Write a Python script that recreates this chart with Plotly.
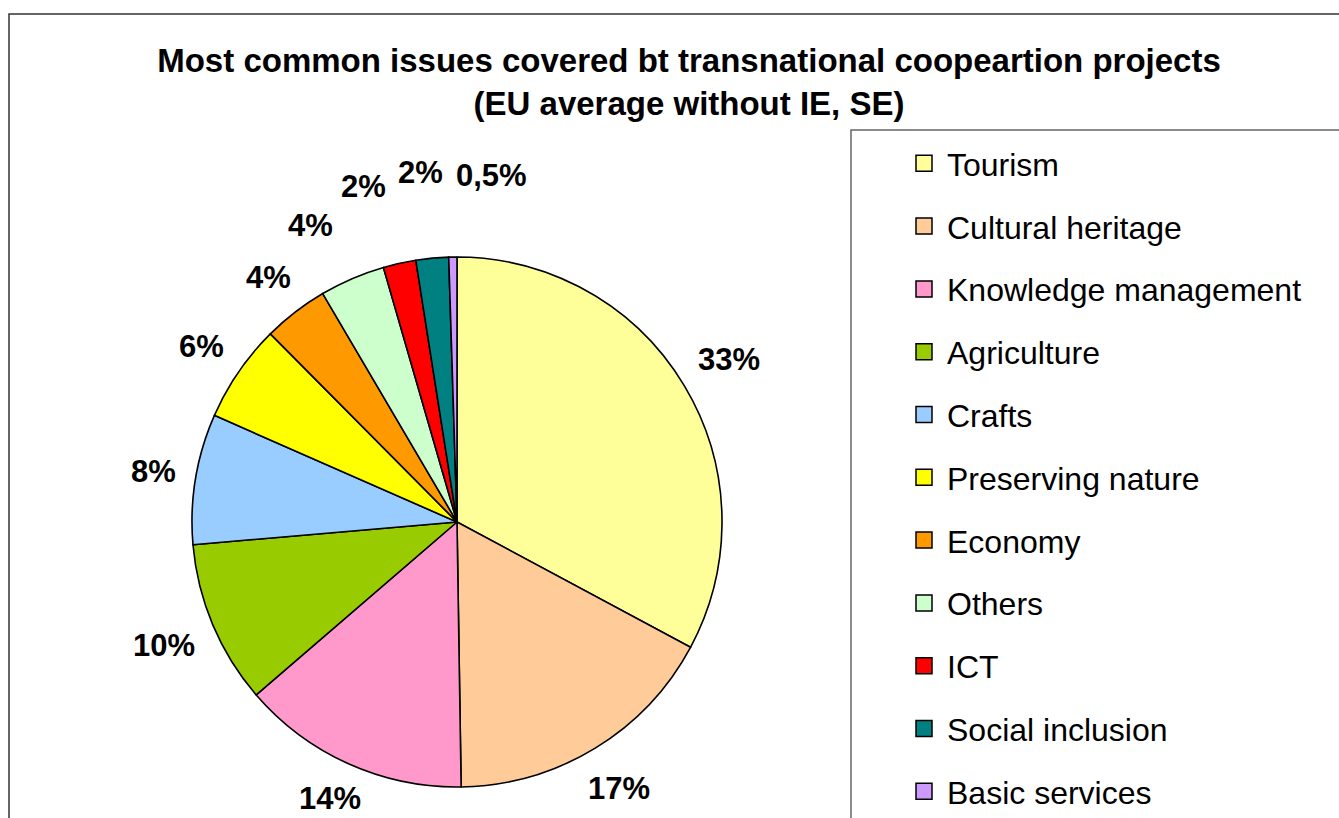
import math
import plotly.graph_objects as go

# ---- data ----
categories = ["Tourism", "Cultural heritage", "Knowledge management", "Agriculture",
              "Crafts", "Preserving nature", "Economy", "Others", "ICT",
              "Social inclusion", "Basic services"]
shares = [33, 17, 14, 10, 8, 6, 4, 4, 2, 2, 0.5]
colors = ["#FFFF99", "#FFCC99", "#FF99CC", "#99CC00", "#99CCFF", "#FFFF00",
          "#FF9900", "#CCFFCC", "#FF0000", "#008080", "#CC99FF"]
pct_labels = [f"{v:g}".replace(".", ",") + "%" for v in shares]
title_lines = ["Most common issues covered bt transnational coopeartion projects",
               "(EU average without IE, SE)"]

# ---- layout geometry ----
W, H = 1339, 818
CX, CY, R = 457, 522, 265
FONT = "Liberation Sans, Arial, sans-serif"
LBL_SIZE = 31
GAP = 18

fig = go.Figure()

fig.add_trace(go.Pie(
    labels=categories, values=shares, sort=False, direction="clockwise", rotation=0,
    marker=dict(colors=colors, line=dict(color="black", width=1.6)),
    textinfo="none", hoverinfo="label+value", showlegend=False,
    domain=dict(x=[(CX - R) / W, (CX + R) / W], y=[(H - CY - R) / H, (H - CY + R) / H]),
))

# legend entries (one per category so the item spacing can match)
for name, col in zip(categories, colors):
    fig.add_trace(go.Scatter(
        x=[None], y=[None], mode="markers", name=name, legendgroup=name,
        marker=dict(symbol="square", size=16, color=col, line=dict(color="black", width=1.5)),
        hoverinfo="skip",
    ))

# percentage labels placed outside the slices, spread apart where they collide
char_w = {",": 0.278, "%": 0.889}
total = sum(shares)
items = []
cum = 0.0
for v, txt in zip(shares, pct_labels):
    ang = (cum + v / 2) / total * 360
    cum += v
    w = sum(char_w.get(ch, 0.556) for ch in txt) * LBL_SIZE
    t = math.radians(ang)
    ext = abs(w / 2 * math.sin(t)) + abs(15 * math.cos(t))
    items.append({"ang": ang, "d": R + GAP + ext, "w": w, "txt": txt})


def center(it):
    t = math.radians(it["ang"])
    return CX + it["d"] * math.sin(t), min(CY - it["d"] * math.cos(t), H - 20)


def box(it, pw=12, ph=36):
    px, py = center(it)
    return (px - (it["w"] + pw) / 2, py - ph / 2, px + (it["w"] + pw) / 2, py + ph / 2)


def hit(a, b):
    return not (a[2] <= b[0] or a[0] >= b[2] or a[3] <= b[1] or a[1] >= b[3])


n = len(items)
for _ in range(3000):
    dang = [0.0] * n
    bumped = [False] * n
    for i in range(n):
        for j in range(i + 1, n):
            if hit(box(items[i]), box(items[j])):
                dang[i] -= 0.12
                dang[j] += 0.12
                bumped[i] = bumped[j] = True
    if not any(bumped):
        break
    for k in range(n):
        items[k]["ang"] += dang[k]
        if bumped[k]:
            items[k]["d"] += 1.0

annotations = []
for it in items:
    px, py = center(it)
    annotations.append(dict(
        x=px / W, y=1 - py / H, xref="paper", yref="paper", text=it["txt"], showarrow=False,
        xanchor="center", yanchor="middle",
        font=dict(family=FONT, size=LBL_SIZE, color="black", weight="bold"),
    ))

fig.update_layout(
    width=W, height=H,
    margin=dict(l=0, r=0, t=0, b=0, pad=0, autoexpand=False),
    paper_bgcolor="white", plot_bgcolor="white",
    title=dict(text="<br>".join(title_lines), x=689 / W, xanchor="center",
               y=1 - 72 / H, yanchor="top", yref="container",
               font=dict(family=FONT, size=33, color="black", weight="bold")),
    xaxis=dict(visible=False), yaxis=dict(visible=False),
    legend=dict(x=901 / W, y=1 - 136 / H, xanchor="left", yanchor="top",
                font=dict(family=FONT, size=32, color="black"),
                traceorder="grouped", tracegroupgap=18.2, itemwidth=36,
                bgcolor="rgba(0,0,0,0)", borderwidth=0),
    annotations=annotations,
    shapes=[
        dict(type="rect", xref="paper", yref="paper", x0=9 / W, y0=1 - 14 / H,
             x1=1.2, y1=-0.2, line=dict(color="#333333", width=1.5)),
        dict(type="rect", xref="paper", yref="paper", x0=851 / W, y0=1 - 130 / H,
             x1=1.2, y1=-0.2, line=dict(color="#666666", width=1.5)),
    ],
    showlegend=True,
)

fig.write_html("out.html")
